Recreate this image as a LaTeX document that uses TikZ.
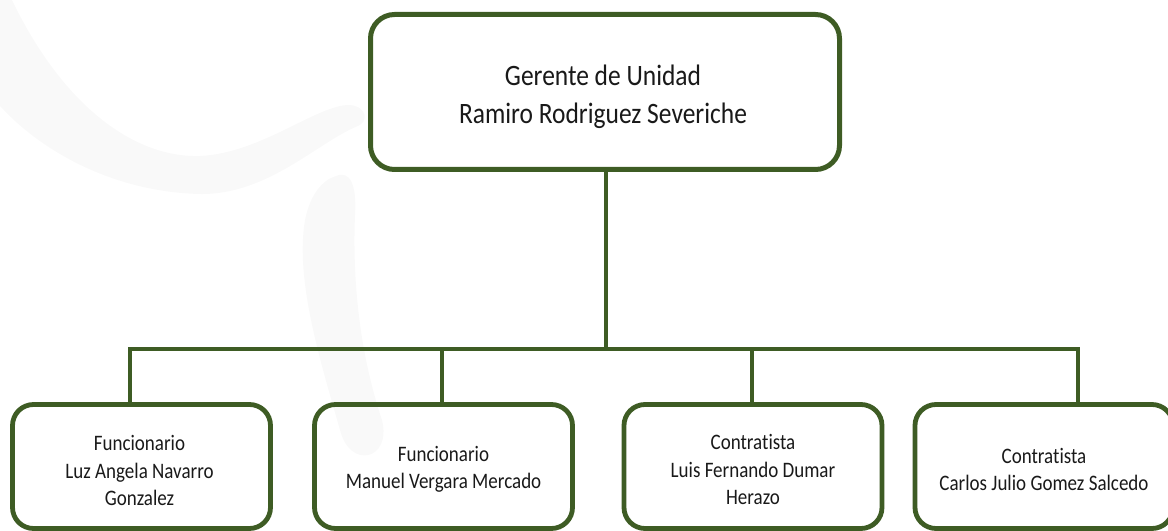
\documentclass[tikz,border=0pt]{standalone}
\usepackage{fontspec}
\setmainfont[FakeStretch=0.86,Ligatures=NoCommon]{Carlito}
\definecolor{orggreen}{RGB}{62,92,36}
\definecolor{wmgray}{RGB}{249,249,249}
\definecolor{txtgray}{RGB}{25,25,25}
\begin{document}
\begin{tikzpicture}[x=1bp,y=-1bp,
  topbox/.style={draw=orggreen,line width=5bp,rounded corners=24bp,
    minimum width=469bp,minimum height=155bp,inner sep=0pt},
  subbox/.style={draw=orggreen,line width=4.8bp,rounded corners=21bp,
    minimum width=258bp,minimum height=124bp,inner sep=0pt},
  toptext/.style={inner sep=0pt,align=center,text=txtgray,
    font=\fontsize{29.6bp}{38.5bp}\selectfont},
  subtext/.style={inner sep=0pt,align=center,text=txtgray,
    font=\fontsize{22.1bp}{27.5bp}\selectfont},
  conn/.style={draw=orggreen,line width=4.6bp},
  wm/.style={fill=wmgray,draw=none}]
\useasboundingbox (0,0) rectangle (1168,531);
\clip (0,0) rectangle (1168,531);
% faint background watermark
\fill[wm] (0,0) -- (12,0) .. controls (60,100) and (130,158) .. (200,156)
  .. controls (262,153) and (318,104) .. (350,105)
  .. controls (368,107) and (368,122) .. (358,126)
  .. controls (318,142) and (268,195) .. (200,194)
  .. controls (112,192) and (40,150) .. (0,106) -- cycle;
\fill[wm] (336,176) .. controls (350,170) and (357,185) .. (355,215)
  .. controls (352,290) and (362,360) .. (382,420)
  .. controls (392,460) and (350,470) .. (340,430)
  .. controls (320,360) and (295,280) .. (305,220)
  .. controls (310,195) and (322,180) .. (336,176) -- cycle;
% boxes
\node[topbox] (top) at (605,92) {};
\node[subbox] (b1) at (141.5,466.5) {};
\node[subbox] (b2) at (443.5,466.5) {};
\node[subbox] (b3) at (753,466.5) {};
\node[subbox] (b4) at (1044,466.5) {};
% texts
\node[toptext] (t0) at ([xshift=-2bp,yshift=-5bp]top.center) {Gerente de Unidad\\Ramiro Rodriguez Severiche};
\node[subtext] (t1) at ([xshift=-2bp,yshift=-4bp]b1.center) {Funcionario\\Luz Angela Navarro\\Gonzalez};
\node[subtext] (t2) at ([yshift=-3bp]b2.center) {Funcionario\\Manuel Vergara Mercado};
\node[subtext] (t3) at ([yshift=-3bp]b3.center) {Contratista\\Luis Fernando Dumar\\Herazo};
\node[subtext] (t4) at ([yshift=-3bp]b4.center) {Contratista\\Carlos Julio Gomez Salcedo};
% junctions
\coordinate (bus) at (606,349);
\coordinate (j1) at (130,349);
\coordinate (j2) at (442,349);
\coordinate (j3) at (752,349);
\coordinate (j4) at (1078,349);
% connectors
\draw[conn] (top.south -| bus) -- (bus);
\draw[conn,line join=miter] (b1.north -| j1) -- (j1) -- (j4) -- (b4.north -| j4);
\draw[conn] (j2) -- (b2.north -| j2);
\draw[conn] (j3) -- (b3.north -| j3);
\end{tikzpicture}
\end{document}
